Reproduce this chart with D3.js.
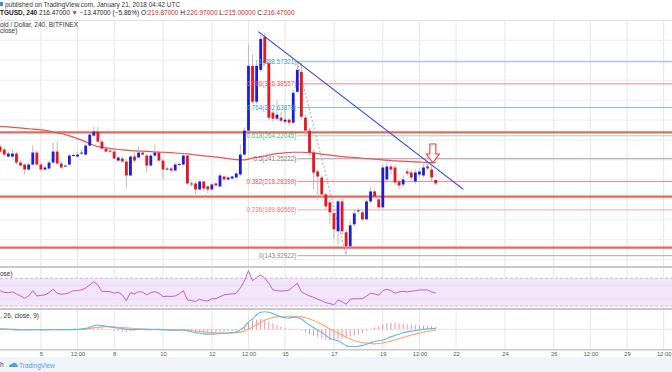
<!DOCTYPE html>
<html><head><meta charset="utf-8">
<script src="https://cdn.jsdelivr.net/npm/d3@7"></script>
<style>
body{margin:0;background:#fff;overflow:hidden}
svg{display:block;font-family:"Liberation Sans",Arial,sans-serif}
</style></head>
<body><svg id="c" width="672" height="372"></svg>
<script>
// ---------- DATA ----------
const opens  = [253.4,250.4,243.4,243.4,246.4,237.4,235.4,230.4,235.4,247.4,235.4,230.4,231.4,237.4,248.4,236.4,233.4,235.4,244.4,243.4,246.4,245.4,254.4,264.4,268.4,258.4,251.4,249.4,248.4,239.4,241.4,238.4,224.4,243.4,242.4,247.4,244.4,234.4,244.4,247.4,239.4,230.4,231.4,229.4,235.4,235.4,244.4,216.4,216.4,210.4,218.4,213.4,210.4,216.4,213.4,223.4,220.4,221.4,222.4,225.4,245.4,269.4,334.4,298.4,330.4,363.4,337.4,287.4,281.4,282.4,278.4,280.4,277.4,308.4,328.4,282.4,269.4,247.4,228.4,222.4,205.4,197.4,186.4,168.4,198.4,167.4,153.4,175.4,188.4,187.4,180.4,198.4,208.4,200.4,192.4,220.4,233.4,232.4,218.4,215.4,228.4,227.4,218.4,225.4,224.4,233.4,230.4,219.87];
const highs  = [255.4,252.4,248.4,250.4,248.4,239.4,236.4,237.4,254.4,249.4,237.4,234.4,239.4,257.4,258.4,238.4,235.4,246.4,246.4,248.4,250.4,256.4,267.4,273.4,273.4,260.4,253.4,252.4,250.4,243.4,243.4,240.4,244.4,247.4,253.4,249.4,246.4,246.4,255.4,249.4,241.4,233.4,233.4,237.4,237.4,245.4,245.4,218.4,218.4,219.4,219.4,214.4,216.4,217.4,226.4,224.4,223.4,224.4,228.4,255.4,272.4,355.4,345.4,340.4,365.4,367.4,340.4,290.4,300.4,288.4,290.4,282.4,310.4,338.4,337.4,285.4,272.4,250.4,230.4,224.4,207.4,200.4,190.4,200.4,202.4,170.4,178.4,190.4,191.4,189.4,200.4,212.4,210.4,204.4,235.4,237.4,235.4,235.4,220.4,224.4,231.4,230.4,230.4,231.4,236.4,237.4,234.4,220.97];
const lows   = [247.4,243.4,242.4,241.4,235.4,233.4,225.4,229.4,234.4,233.4,229.4,229.4,230.4,236.4,235.4,231.4,232.4,234.4,243.4,242.4,245.4,244.4,253.4,263.4,257.4,250.4,247.4,246.4,240.4,238.4,237.4,211.4,223.4,237.4,241.4,244.4,227.4,233.4,243.4,238.4,220.4,229.4,227.4,228.4,234.4,234.4,215.4,213.4,205.4,209.4,208.4,206.4,209.4,213.4,212.4,219.4,219.4,220.4,221.4,224.4,244.4,268.4,296.4,296.4,328.4,334.4,280.4,278.4,279.4,277.4,276.4,274.4,275.4,306.4,280.4,265.4,244.4,210.4,200.4,202.4,190.4,175.4,160.4,155.4,164.4,144.4,151.4,172.4,186.4,178.4,179.4,196.4,201.4,190.4,190.4,217.4,225.4,214.4,210.4,212.4,224.4,219.4,216.4,223.4,222.4,229.4,218.4,215.0];
const closes = [248.4,245.4,246.4,246.4,237.4,234.4,230.4,235.4,247.4,235.4,230.4,232.4,237.4,248.4,236.4,232.4,234.4,244.4,244.9,245.4,247.4,254.4,265.4,268.4,258.4,251.4,248.4,248.4,241.4,242.4,238.4,224.4,243.4,239.4,247.4,245.4,234.4,244.4,247.4,239.4,230.4,231.4,229.4,235.4,235.9,244.4,216.4,215.4,210.4,218.4,211.4,210.4,215.4,214.4,224.4,220.4,222.4,223.4,226.4,245.4,269.4,334.4,298.4,334.4,361.4,337.4,282.4,281.4,285.4,279.4,280.4,277.4,307.4,330.4,283.4,269.4,247.4,227.4,223.4,205.4,193.4,187.4,170.4,198.4,168.4,153.4,174.4,186.4,189.4,180.4,198.4,208.4,203.4,192.4,232.4,233.4,230.4,217.4,214.4,220.4,226.4,222.4,227.4,228.4,232.4,231.4,222.4,216.47];

// moving average (read every 2 candles)
const maIdx  = [0,2,4,6,8,10,12,14,16,18,20,22,24,26,28,30,32,34,36,38,40,42,44,46,48,50,52,54,56,58,60,62,64,66,68,70,72,74,76,78,80,82,84,86,88,90,92,94,96,98,100,102,104,106,107];
const maVals = [273.7,273.1,272.4,271.7,270.9,270.1,268.9,267.1,265.4,262.9,259.9,256.4,253.4,252.1,251.1,250.1,249.4,248.9,248.7,248.1,247.7,247.4,246.7,246.1,245.1,244.1,243.4,242.4,241.4,240.4,240.1,241.9,243.4,244.9,246.4,247.2,247.7,247.7,247.4,246.4,245.4,244.4,243.4,242.7,242.1,241.4,240.7,240.1,239.4,238.9,238.4,238.1,237.7,237.4,237.4];

// RSI
const rsi = [52.2,49.6,49.3,50.3,47.4,44.5,41.2,44.5,52.2,44.5,45.2,46.0,49.3,54.2,48.4,47.0,47.4,49.3,52.2,52.2,53.2,56.1,60.4,65.2,60.4,50.7,51.0,50.7,48.4,49.9,46.0,37.7,49.3,47.4,50.7,49.9,46.0,49.3,50.7,48.4,43.5,44.1,43.8,44.5,47.4,52.2,38.7,37.7,36.3,39.7,37.7,37.3,40.6,40.6,43.5,46.0,47.0,47.4,48.4,56.1,66.2,81.0,66.6,71.5,74.8,70.1,62.9,53.2,52.2,51.7,51.7,53.2,57.9,62.9,50.7,47.4,44.5,42.6,39.7,37.7,34.8,33.7,31.5,38.7,36.3,32.5,39.7,40.6,40.6,40.6,44.5,48.4,47.4,45.5,52.2,54.2,52.2,48.4,50.3,51.3,50.3,51.3,52.2,53.2,53.2,53.2,50.3,48.4];

// MACD (12, 26, close, 9)
const macdLine = [1,0.5,0,-0.5,-1,-1,-1.2,-1,-0.5,-0.7,-1,-1,-0.8,-0.3,-0.5,-0.8,-0.8,-0.5,-0.2,0,0.3,1.5,3.5,6,7,6,5,4,3,2,1.2,0,-0.5,-0.5,-0.3,-0.3,-0.5,-0.5,-0.3,-0.5,-1,-1.2,-1.5,-1.5,-1.2,-0.8,-2.5,-4,-5.5,-6.5,-7.5,-8,-8,-7.5,-7,-6.5,-6,-5.5,-4.5,-1,4,12,17,24,28,29,28,26,23,20.5,19,18.5,20,19,17,12,7,3,-1.5,-5,-10,-15,-17,-19,-23,-27,-28.5,-28.7,-28,-26.5,-24.5,-22,-20,-19,-17.7,-15.5,-12.5,-10,-8,-5.6,-4.3,-3,-2,-1,0,0.6,1.1,1.6];
const signalLine = [0,0,0,-0.1,-0.2,-0.4,-0.5,-0.6,-0.6,-0.6,-0.7,-0.7,-0.7,-0.6,-0.6,-0.6,-0.6,-0.6,-0.5,-0.4,0,0.5,1.5,2.5,3.5,4,4.2,4.2,4,3.5,3,2.3,1.8,1.3,1,0.7,0.4,0.2,0,-0.2,-0.4,-0.6,-0.8,-1,-1.1,-1.1,-1.4,-2,-2.7,-3.5,-4.3,-5,-5.5,-5.8,-6,-6,-6,-5.9,-5.6,-4.7,-3,0,3.5,7.5,11.5,15,17.5,19.5,20.5,21,21.5,21.5,21.5,21,20.5,19,17,14.5,11.5,8,4.5,0.5,-3,-6,-9.5,-13,-16,-18.5,-20.5,-22,-22.8,-23.5,-24,-23.5,-22.5,-21,-19.5,-17.5,-15.5,-13.5,-11.5,-9.5,-8,-6.5,-5,-3.5,-2.5,-1.5];
const histo = [0.3,0.2,0,-0.2,-0.4,-0.4,-0.5,-0.3,0.1,-0.1,-0.3,-0.3,-0.1,0.3,0.1,-0.2,-0.2,0.1,0.3,0.4,1,2,3.5,4,3,1.5,0.5,-0.5,-2,-3,-3.5,-4,-3,-2,-1,-0.5,-1,-0.5,0,-0.5,-1,-1.5,-1.5,-1,-0.5,-1,-3,-4,-5,-5,-5.5,-5.5,-5,-4.5,-4,-3.5,-3,-2.5,-2,1,5,11,14,16,17,16,13,10,7,4.5,2.5,1,0.5,0,-2,-5,-8,-10.5,-13,-15,-17,-18,-18.5,-17,-15,-14,-12,-10,-8,-6,-3,0.5,3,5,8,10,11,11,10,9.5,8.5,8,7,6.5,6,5.5,5,4];

// time axis
const tickIdx    = [10,19,28,40,52,61,70,82,94,103,112,124,136,145,154,163];
const tickLabels = ["5","12:00","8","10","12","12:00","15","17","19","12:00","22","24","26","12:00","29","12:00"];

// price grid levels
const priceGrid = [140,160,180,200,220,240,260,280,300,320,340,360,380];

// fibonacci retracement
const fibRatios = ["1","0.886","0.764","0.618","0.5","0.382","0.236","0"];
const fibPrices = [338.57321,316.38557,292.63878,264.22045,241.25222,218.28399,189.86568,143.92922];
const fibColors = ["#86bfe0","#f08a8a","#86bfe0","#8fdcb8","#b69aa8","#f08a8a","#f4aaaa","#a8a8a8"];
const fibTextColors = ["#4a9ccc","#e05a5a","#4a9ccc","#3fbf88","#8a7080","#e05a5a","#e87b7b","#888888"];
const fibFrom = [73, 338.57321], fibTo = [85, 143.92922];

// horizontal support / resistance
const srLevels = [267.7, 203.2, 152.0];
// trend line
const trend = [[63.4, 368.7], [113.8, 210.5]];
// arrow annotation (candle index, top price, tip price)
const arrowAt = {idx: 106.3, top: 256, head: 246, tip: 237};

// ---------- DRAW ----------
const svg = d3.select("#c");
const W = 672;
const x = d3.scaleLinear().domain([0, 107]).range([0.2, 435.7]);
const y = d3.scaleLinear().domain([143.92922, 338.57321]).range([255.7, 61.7]);
const yR = d3.scaleLinear().domain([30, 70]).range([306, 278.3]);
const yM = d3.scaleLinear().domain([-33, 33]).range([349.3, 309.3]);

const defs = svg.append("defs");
function clip(id, y0, y1){ defs.append("clipPath").attr("id", id).append("rect").attr("x",0).attr("y",y0).attr("width",W).attr("height",y1-y0); }
clip("cMain", 20.5, 266); clip("cRsi", 268, 308); clip("cMacd", 310, 349);

// background panels
svg.append("rect").attr("width",W).attr("height",372).attr("fill","#fff");
svg.append("rect").attr("x",0).attr("y",357).attr("width",W).attr("height",15).attr("fill","#f0f3f7");

// vertical grid
svg.append("g").selectAll("line").data(tickIdx).join("line")
  .attr("x1",d=>x(d)).attr("x2",d=>x(d)).attr("y1",20.5).attr("y2",349.5)
  .attr("stroke","#e6e6e6").attr("stroke-width",1);

// main pane
const main = svg.append("g").attr("clip-path","url(#cMain)");
main.selectAll("line.hg").data(priceGrid).join("line").attr("class","hg")
  .attr("x1",0).attr("x2",W).attr("y1",d=>y(d)).attr("y2",d=>y(d))
  .attr("stroke","#ececec");

// fib lines
fibPrices.forEach((p,i)=>{
  main.append("line").attr("x1",x(fibFrom[0])).attr("x2",W).attr("y1",y(p)).attr("y2",y(p))
    .attr("stroke",fibColors[i]).attr("stroke-width",1);
});
// fib diagonal
main.append("line").attr("x1",x(fibFrom[0])).attr("y1",y(fibFrom[1])).attr("x2",x(fibTo[0])).attr("y2",y(fibTo[1]))
  .attr("stroke","#aaa").attr("stroke-dasharray","2,2");

// S/R lines
main.selectAll("line.sr").data(srLevels).join("line").attr("class","sr")
  .attr("x1",0).attr("x2",W).attr("y1",d=>y(d)).attr("y2",d=>y(d))
  .attr("stroke","#e2574c").attr("stroke-width",2.2).attr("stroke-opacity",0.9);

// MA
main.append("path").datum(maIdx.map((d,i)=>[d,maVals[i]]))
  .attr("d", d3.line().x(d=>x(d[0])).y(d=>y(d[1])).curve(d3.curveMonotoneX))
  .attr("fill","none").attr("stroke","#f05050").attr("stroke-width",1.2);

// candles
const idx = d3.range(opens.length);
const up = "#1c1ce0", dn = "#e8141e";
main.selectAll("line.wick").data(idx).join("line").attr("class","wick")
  .attr("x1",i=>x(i)).attr("x2",i=>x(i)).attr("y1",i=>y(highs[i])).attr("y2",i=>y(lows[i]))
  .attr("stroke","#b5b5b5").attr("stroke-width",0.9);
main.selectAll("rect.body").data(idx).join("rect").attr("class","body")
  .attr("x",i=>x(i)-1.4).attr("width",2.8)
  .attr("y",i=>y(Math.max(opens[i],closes[i])))
  .attr("height",i=>Math.max(1, Math.abs(y(opens[i])-y(closes[i]))))
  .attr("fill",i=>closes[i]>=opens[i]?up:dn);

// trend line
main.append("line").attr("x1",x(trend[0][0])).attr("y1",y(trend[0][1])).attr("x2",x(trend[1][0])).attr("y2",y(trend[1][1]))
  .attr("stroke","#2b3fe6").attr("stroke-width",1.1);

// fib labels
fibPrices.forEach((p,i)=>{
  main.append("text").attr("x",x(fibFrom[0])-1).attr("y",y(p)).attr("dy","0.35em")
    .attr("text-anchor","end").attr("font-size",6.3).attr("fill",fibTextColors[i])
    .text(fibRatios[i]+"("+p.toFixed(5)+")");
});

// arrow
{
  const cx = x(arrowAt.idx), yt = y(arrowAt.top), yh = y(arrowAt.head), yp = y(arrowAt.tip);
  const p = d3.path();
  p.moveTo(cx-3,yt); p.lineTo(cx+3,yt); p.lineTo(cx+3,yh); p.lineTo(cx+6.5,yh);
  p.lineTo(cx,yp); p.lineTo(cx-6.5,yh); p.lineTo(cx-3,yh); p.closePath();
  main.append("path").attr("d",p.toString()).attr("fill","#fff").attr("fill-opacity",0.85)
    .attr("stroke","#f03c3c").attr("stroke-width",1.1);
}

// legends main
svg.append("text").attr("x",0).attr("y",26.5).attr("font-size",6.5).attr("fill","#333").text("old / Dollar, 240, BITFINEX");
svg.append("text").attr("x",0).attr("y",33).attr("font-size",6.5).attr("fill","#333").text("close)");

// RSI pane
const rg = svg.append("g").attr("clip-path","url(#cRsi)");
rg.append("rect").attr("x",0).attr("width",W).attr("y",yR(70)).attr("height",yR(30)-yR(70)).attr("fill","#f3e6fb");
[70,30].forEach(v=>rg.append("line").attr("x1",0).attr("x2",W).attr("y1",yR(v)).attr("y2",yR(v))
  .attr("stroke","#c9a6dd").attr("stroke-dasharray","3,2").attr("stroke-width",0.8));
[60,40].forEach(v=>rg.append("line").attr("x1",0).attr("x2",W).attr("y1",yR(v)).attr("y2",yR(v))
  .attr("stroke","#e2d4ec").attr("stroke-width",0.7));
rg.append("path").datum(rsi).attr("d",d3.line().x((d,i)=>x(i)).y(d=>yR(d)))
  .attr("fill","none").attr("stroke","#bd5fd3").attr("stroke-width",1);
svg.append("text").attr("x",0).attr("y",276).attr("font-size",6.5).attr("fill","#333").text("ose)");

// MACD pane
const mg = svg.append("g").attr("clip-path","url(#cMacd)");
mg.append("line").attr("x1",0).attr("x2",W).attr("y1",yM(0)).attr("y2",yM(0)).attr("stroke","#e4e4e4");
mg.selectAll("line.h").data(idx).join("line").attr("class","h")
  .attr("x1",i=>x(i)).attr("x2",i=>x(i)).attr("y1",yM(0)).attr("y2",i=>yM(histo[i]))
  .attr("stroke","#f58cb0").attr("stroke-width",1);
mg.append("path").datum(signalLine).attr("d",d3.line().x((d,i)=>x(i)).y(d=>yM(d)).curve(d3.curveMonotoneX))
  .attr("fill","none").attr("stroke","#ffa566").attr("stroke-width",1.1);
mg.append("path").datum(macdLine).attr("d",d3.line().x((d,i)=>x(i)).y(d=>yM(d)).curve(d3.curveMonotoneX))
  .attr("fill","none").attr("stroke","#5db8f2").attr("stroke-width",1.1);
svg.append("text").attr("x",0).attr("y",318).attr("font-size",6.5).attr("fill","#333").text(", 26, close, 9)");

// separators
[[267,2],[309,2],[349.8,1.6]].forEach(([yy,w])=>svg.append("line").attr("x1",0).attr("x2",W).attr("y1",yy).attr("y2",yy).attr("stroke","#c9c9c9").attr("stroke-width",w));
svg.append("line").attr("x1",0).attr("x2",W).attr("y1",20.5).attr("y2",20.5).attr("stroke","#e0e0e0");

// time axis
const ax = d3.axisBottom(x).tickValues(tickIdx).tickFormat((d,i)=>tickLabels[i]).tickSize(0).tickPadding(2);
const axg = svg.append("g").attr("transform","translate(0,350)").call(ax);
axg.select(".domain").remove();
axg.selectAll("text").attr("font-size",5.8).attr("fill","#555").attr("font-family","Liberation Sans, Arial, sans-serif");

// header
svg.append("text").attr("x",5).attr("y",7).attr("font-size",6.5).attr("fill","#333").text("published on TradingView.com, January 21, 2018 04:42 UTC");
svg.append("rect").attr("x",0).attr("y",2).attr("width",3).attr("height",4).attr("fill","#3a8dd0");
const h2 = svg.append("text").attr("x",0).attr("y",14.5).attr("font-size",6.5).attr("fill","#222");
h2.append("tspan").attr("font-weight","bold").text("TGUSD, 240 ");
h2.append("tspan").text("216.47000 ");
h2.append("tspan").attr("fill","#e01e1e").text("▼");
h2.append("tspan").text(" −13.47000 (−5.86%) O:");
h2.append("tspan").attr("fill","#e01e1e").text("219.87000");
h2.append("tspan").text(" H:");
h2.append("tspan").attr("fill","#e01e1e").text("220.97000");
h2.append("tspan").text(" L:");
h2.append("tspan").attr("fill","#e01e1e").text("215.00000");
h2.append("tspan").text(" C:");
h2.append("tspan").attr("fill","#e01e1e").text("216.47000");

// footer
svg.append("text").attr("x",0).attr("y",367).attr("font-size",6.5).attr("fill","#333").text("h");
svg.append("path").attr("d","M9,367 q0,-3 3,-3 q1,-2 3,-1 q2,0 2,2 q1,0 1,2 z").attr("fill","#4aa3df");
svg.append("text").attr("x",19).attr("y",367.5).attr("font-size",6.5).attr("fill","#4aa3df").text("TradingView");
</script></body></html>
